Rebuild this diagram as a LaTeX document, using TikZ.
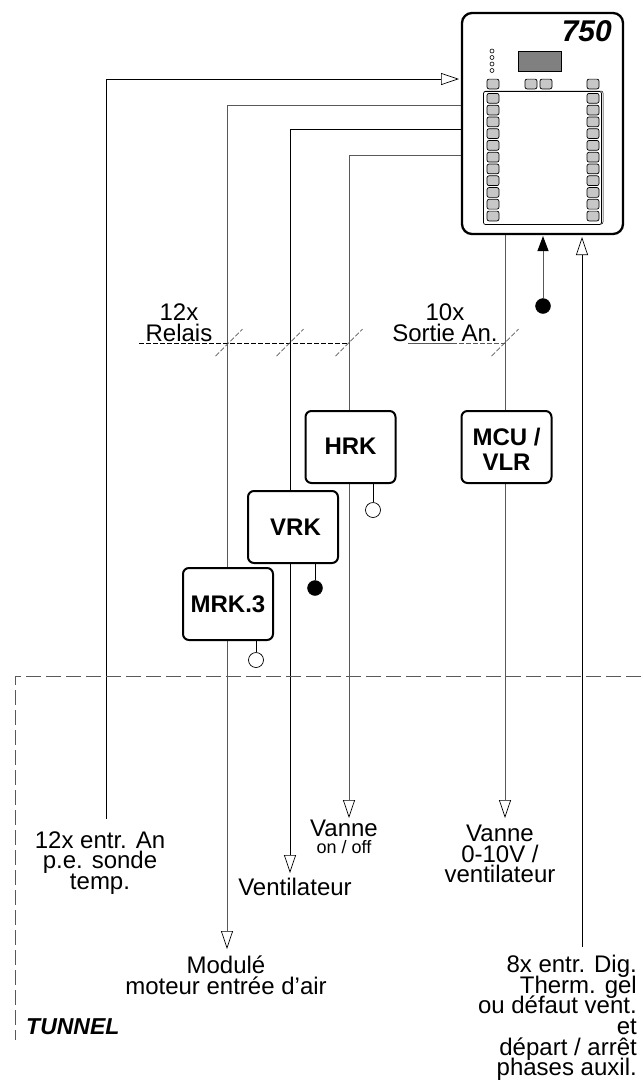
\documentclass[tikz,border=0pt]{standalone}
\usepackage{fontspec}
\setmainfont{Liberation Sans}
\usetikzlibrary{arrows.meta}
\newcommand\labelfont{\fontsize{24}{20.7}\selectfont\lineskiplimit=-20pt\relax\lineskip=0pt\relax}
\tikzset{
  wire/.style={line width=0.9pt,black},
  graywire/.style={line width=1pt,black!65},
  openarrow/.style={-{Triangle[open,fill=white,color=black,length=18pt,width=12pt,line width=0.7pt]}},
  fullarrow/.style={-{Triangle[color=black,fill=black,length=15pt,width=11pt]}},
  unitbox/.style={draw,line width=2pt,rounded corners=6pt,fill=white,minimum width=90pt,minimum height=72pt,inner sep=0pt,align=center,font=\fontsize{24}{25}\selectfont\bfseries},
  sensoropen/.style={draw,circle,line width=0.7pt,fill=white,minimum size=15pt,inner sep=0pt},
  sensorfull/.style={draw,circle,fill=black,minimum size=15pt,inner sep=0pt},
  pad/.style={draw,line width=0.7pt,rounded corners=2pt,fill=black!22,minimum width=12pt,minimum height=9.8pt,inner sep=0pt},
  led/.style={draw,circle,line width=0.6pt,minimum size=4pt,inner sep=0pt},
  textlabel/.style={align=center,inner sep=0pt,font=\labelfont},
  tickline/.style={line width=0.7pt,black!65,dash pattern=on 5pt off 2pt},
  tunnel/.style={line width=1pt,black!65,dash pattern=on 15pt off 5pt}
}
\begin{document}
\begin{tikzpicture}[x=1pt,y=-1pt]
\useasboundingbox (0,0) rectangle (641,1080);
% controller
\node[draw,line width=2.3pt,rounded corners=10pt,minimum width=161pt,minimum height=221pt,inner sep=0pt] (ctrl) at (542.5,123.5) {};
\node[inner sep=0pt,anchor=east,font=\fontsize{30}{30}\selectfont\bfseries\itshape] (ctrlName) at (612,31) {750};
\node[draw,line width=1pt,fill=black!50,minimum width=43pt,minimum height=20pt,inner sep=0pt] (display) at (539.5,61) {};
\node[draw,line width=0.5pt,rounded corners=2pt,minimum width=119pt,minimum height=133pt,inner sep=0pt] (panelBack) at (543.5,157.5) {};
\node[draw,line width=0.7pt,rounded corners=2pt,fill=white,minimum width=118pt,minimum height=133pt,inner sep=0pt] (panel) at (542.5,158) {};
\foreach \i/\y in {1/51,2/57.5,3/64,4/70.5}
  \node[led] (led\i) at (492,\y) {};
\foreach \i/\x in {1/493,2/531,3/546,4/593}
  \node[pad] (padT\i) at (\x,84) {};
\foreach \i in {0,...,10} {
  \node[pad] (padL\i) at (493,98.3+11.77*\i) {};
  \node[pad] (padR\i) at (593,98.3+11.77*\i) {};
}
% lines
\coordinate (sondeEnd) at (106,819);
\coordinate (sondeBend) at (106,79);
\coordinate (sondeTip) at (459,79);
\coordinate (mrkBend) at (227,105);
\coordinate (mrkTip) at (227,949);
\coordinate (vrkBend) at (290,129);
\coordinate (vrkTip) at (290,873);
\coordinate (hrkBend) at (349,155.5);
\coordinate (hrkTip) at (349,818);
\coordinate (mcuTip) at (505,818);
\coordinate (digTip) at (582,237);
\coordinate (digEnd) at (582,947);
\coordinate (ctrlTip) at (543,236);
\draw[wire,openarrow] (sondeEnd) -- (sondeBend) -- (sondeTip);
\draw[graywire,openarrow] (ctrl.west |- mrkBend) -- (mrkBend) -- (mrkTip);
\draw[wire,openarrow] (ctrl.west |- vrkBend) -- (vrkBend) -- (vrkTip);
\draw[graywire,openarrow] (ctrl.west |- hrkBend) -- (hrkBend) -- (hrkTip);
\draw[graywire,openarrow] (ctrl.south -| mcuTip) -- (mcuTip);
\draw[wire,openarrow] (digEnd) -- (digTip);
\node[sensorfull] (ctrlSens) at (543,306) {};
\draw[graywire,fullarrow] (ctrlSens) -- (ctrlTip);
% groups
\draw[line width=0.9pt,dash pattern=on 5pt off 2pt] (139,343) -- (349,343);
\draw[line width=0.9pt,black!65] (408,343) -- (452,343);
\draw[tickline] (452,343) -- (505,343);
\foreach \x in {229,290,349,505}
  \draw[tickline] (\x-13.5,356) -- (\x+13.5,329);
\node[textlabel] (relais) at (179,322.5) {12x\\Relais};
\node[textlabel] (sortie) at (445,322.5) {10x\\Sortie An.};
% tunnel
\coordinate (tunnelEnd) at (641,676);
\coordinate (tunnelCorner) at (15,676);
\coordinate (tunnelFoot) at (15,1040);
\draw[tunnel] (tunnelEnd) -- (tunnelCorner) -- (tunnelFoot);
\node[inner sep=0pt,anchor=west,font=\fontsize{23}{23}\selectfont\bfseries\itshape] (tunnelName) at (26,1027) {TUNNEL};
% units
\node[unitbox] (hrkBox) at (350.5,447) {\raisebox{2pt}{HRK}};
\node[unitbox] (vrkBox) at (293,527) {\hspace{5pt}VRK};
\node[unitbox] (mrkBox) at (228,604) {MRK.3};
\node[unitbox] (mcuBox) at (506.5,447) {\rule{0pt}{21.5pt}MCU /\\VLR};
\node[sensoropen] (hrkSens) at (373,510) {};
\node[sensorfull] (vrkSens) at (315,588) {};
\node[sensoropen] (mrkSens) at (256,660) {};
\draw[wire] (hrkBox.south -| hrkSens) -- (hrkSens);
\draw[wire] (vrkBox.south -| vrkSens) -- (vrkSens);
\draw[wire] (mrkBox.south -| mrkSens) -- (mrkSens);
% labels
\node[textlabel] (sondeText) at (100,863) {12x entr. An\\p.e. sonde\\temp.};
\node[textlabel] (vanneText) at (344,828) {Vanne};
\node[inner sep=0pt,font=\fontsize{18}{18}\selectfont] (onoffText) at (344,847) {on / off};
\node[textlabel] (ventText) at (295,887) {Ventilateur};
\node[textlabel] (mcuText) at (500,854) {Vanne\\0-10V /\\ventilateur};
\node[textlabel] (mrkText) at (226,975) {Modulé\\moteur entrée d'air};
\node[textlabel,align=right,anchor=east] (digText) at (637,1018) {8x entr. Dig.\\Therm. gel\\ou défaut vent.\\et\\départ / arrêt\\phases auxil.};
\end{tikzpicture}
\end{document}
